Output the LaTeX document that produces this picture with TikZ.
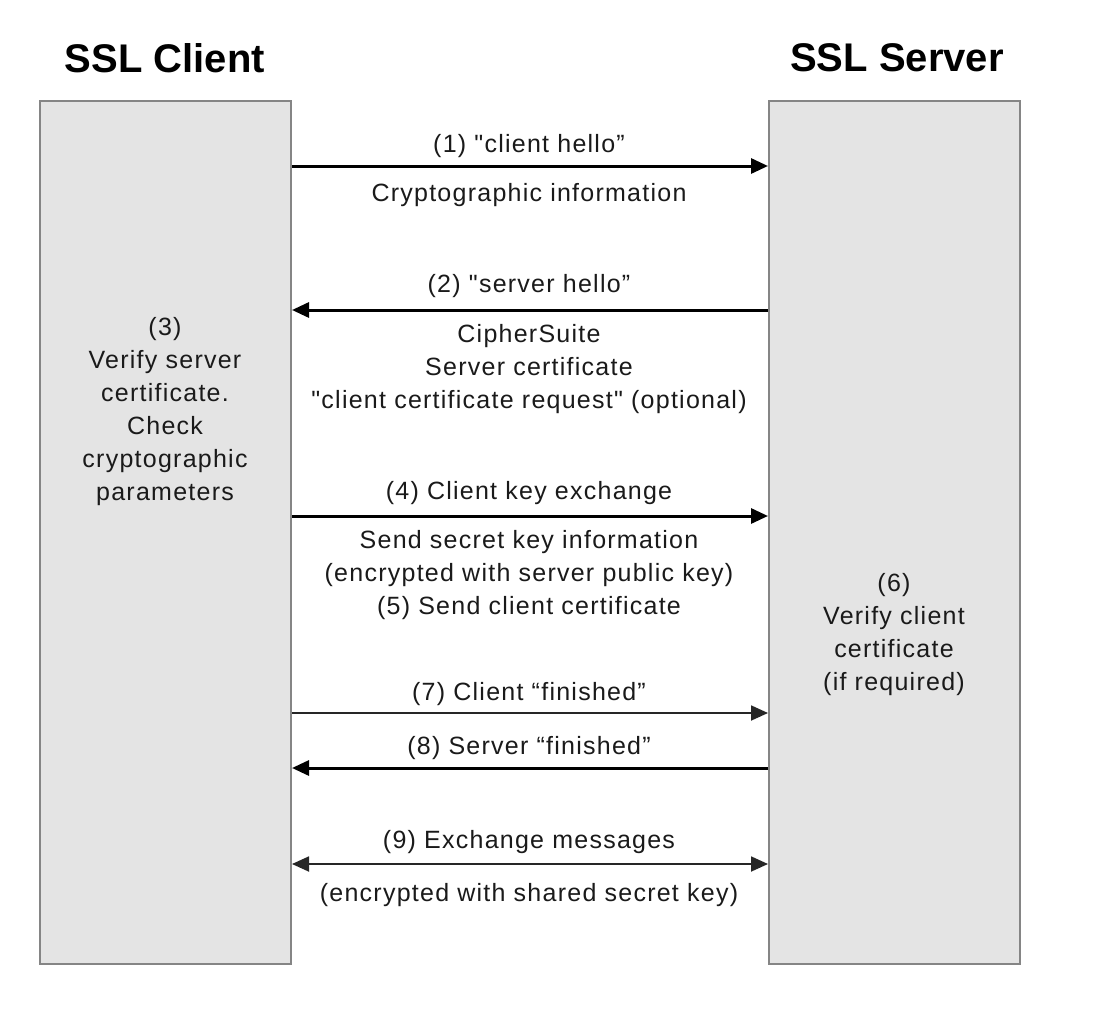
\documentclass[tikz,border=0pt]{standalone}
\usepackage{fontspec}
\setmainfont{Liberation Sans}
\newfontfamily\bodyfont[LetterSpace=5]{Liberation Sans}
\usetikzlibrary{arrows.meta}
\definecolor{boxfill}{HTML}{E4E4E4}
\definecolor{boxdraw}{HTML}{858585}
\definecolor{txt}{HTML}{1A1A1A}
\begin{document}
\begin{tikzpicture}[x=1pt,y=-1pt,
  party/.style={draw=boxdraw, line width=2pt, fill=boxfill, minimum width=251pt, minimum height=863pt, anchor=north west, inner sep=0pt},
  msg/.style={font=\bodyfont\fontsize{25}{33}\selectfont, text=txt, align=center, inner sep=0pt},
  ttl/.style={font=\bfseries\fontsize{40}{48}\selectfont, text=black, inner sep=0pt},
  bigarrow/.style={line width=3pt, draw=black, -{Triangle[length=17pt,width=15pt]}},
  thinarrow/.style={line width=1.8pt, draw=black!85, -{Triangle[length=17pt,width=15pt]}},
  twoarrow/.style={line width=1.8pt, draw=black!85, {Triangle[length=17pt,width=15pt]}-{Triangle[length=17pt,width=15pt]}}]
\useasboundingbox (0,0) rectangle (1096,1020);
\fill[white] (0,0) rectangle (1096,1020);

\node[party] (client) at (39,100) {};
\node[party] (server) at (768,100) {};

\node[ttl] (tclient) at (165,58) {SSL Client};
\node[ttl] (tserver) at (897,58) {SSL Server};

% message rows
\foreach \n/\y in {1/166, 2/310, 4/516, 7/713, 8/768, 9/864} {
  \coordinate (cl\n) at (client.east |- 0,\y);
  \coordinate (sv\n) at (server.west |- 0,\y);
}
\draw[bigarrow] (cl1) -- (sv1);
\draw[bigarrow] (sv2) -- (cl2);
\draw[bigarrow] (cl4) -- (sv4);
\draw[thinarrow] (cl7) -- (sv7);
\draw[bigarrow] (sv8) -- (cl8);
\draw[twoarrow] (cl9) -- (sv9);

\node[msg] (l1) at (529,146) {(1) "client hello”};
\node[msg] (l1b) at (529,195) {Cryptographic information};
\node[msg] (l2) at (529,286) {(2) "server hello”};
\node[msg] (l2b) at (529,369) {CipherSuite\\Server certificate\\"client certificate request" (optional)};
\node[msg] (l4) at (529,493) {(4) Client key exchange};
\node[msg] (l4b) at (529,575) {Send secret key information\\(encrypted with server public key)\\(5) Send client certificate};
\node[msg] (l7) at (529,694) {(7) Client “finished”};
\node[msg] (l8) at (529,748) {(8) Server “finished”};
\node[msg] (l9) at (529,842) {(9) Exchange messages};
\node[msg] (l9b) at (529,895) {(encrypted with shared secret key)};

\node[msg] (step3) at (165,412) {(3)\\Verify server\\certificate.\\Check\\cryptographic\\parameters};
\node[msg] (step6) at (894,635) {(6)\\Verify client\\certificate\\(if required)};
\end{tikzpicture}
\end{document}
